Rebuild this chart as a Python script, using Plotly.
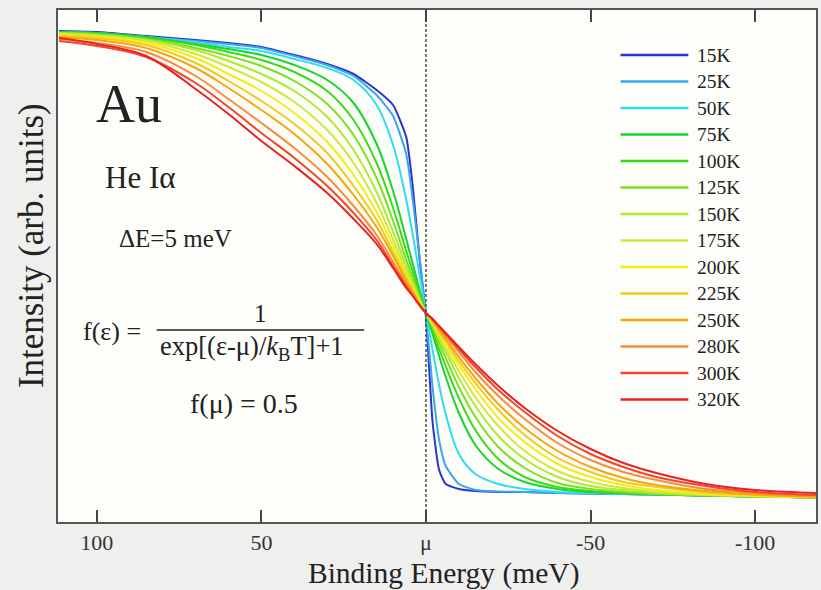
import plotly.graph_objects as go

# ---------------- data (intensity in arbitrary units) ----------------
energy = [111.5, 100, 85, 70, 60, 50, 40, 30, 22, 15, 10, 6, 4, 2, 0,
          -2, -4, -6, -10, -15, -22, -30, -40, -50, -60, -70, -85, -100, -118.5]

temps = ["15K", "25K", "50K", "75K", "100K", "125K", "150K", "175K",
         "200K", "225K", "250K", "280K", "300K", "320K"]

colors = ["#2b35c8", "#39a6ee", "#2fdcf0", "#19d42a", "#3ada1a", "#7ddf22", "#b0e834",
          "#d0e83c", "#f2ee10", "#f3c81a", "#f8a50a", "#f98c3c", "#f2462a", "#e82222"]

i_15K = [491, 490, 486, 482, 479, 475, 467, 458, 448, 432, 417, 385, 335, 265, 205,
         100, 52, 38, 33, 31, 30, 30, 29, 28.5, 28, 27.5, 26.5, 25.5, 24.5]
i_25K = [490, 489, 485, 481, 478, 474, 466, 457, 446, 427, 406, 368, 322, 266, 207,
         135, 82, 56, 38, 32, 30.5, 30, 29, 28.5, 28, 27.5, 26.5, 25.5, 24.5]
i_50K = [490, 489, 485, 480, 475, 471, 463, 454, 442, 417, 377, 322, 287, 248, 209,
         172, 137, 108, 68, 48, 38, 33, 30, 29, 28, 27.5, 26.5, 25.5, 24.5]
i_75K = [490, 489, 485, 478, 473, 467, 457, 442, 419, 378, 331, 283, 258, 233, 209,
         188, 166, 145, 109, 77, 53, 40, 33, 30, 28.5, 27.5, 26.5, 25.5, 24.5]
i_100K = [490, 488, 484, 477, 470, 462, 450, 431, 402, 359, 314, 271, 250, 229, 209,
          192, 173, 156, 124, 92, 63, 45, 35, 31, 29, 28, 26.5, 25.5, 24.5]
i_125K = [489, 488, 483, 474, 466, 456, 441, 418, 387, 344, 301, 262, 244, 226, 209,
          195, 179, 164, 135, 105, 75, 54, 39, 33, 30, 28, 26.7, 25.6, 24.5]
i_150K = [489, 487, 482, 472, 461, 448, 431, 405, 372, 330, 290, 256, 240, 223, 209,
          197, 183, 170, 144, 116, 86, 63, 45, 36, 32, 29, 27, 25.6, 24.5]
i_175K = [488, 486, 481, 468, 455, 440, 420, 392, 359, 319, 282, 251, 237, 222, 209,
          198, 186, 174, 151, 125, 96, 71, 51, 40, 34, 30.5, 27.5, 26, 24.5]
i_200K = [487, 485, 479, 464, 448, 431, 409, 380, 347, 310, 276, 247, 234, 220, 209,
          200, 188, 178, 157, 133, 104, 80, 58, 45, 37, 32, 28, 26, 25]
i_225K = [486, 484, 477, 459, 441, 421, 398, 369, 336, 302, 270, 244, 232, 219, 209,
          200, 190, 181, 161, 139, 112, 87, 64, 50, 40, 35, 29.5, 27, 25]
i_250K = [485, 482, 474, 454, 434, 412, 388, 358, 327, 295, 266, 241, 230, 218, 209,
          201, 192, 183, 165, 144, 118, 94, 71, 55, 44, 37, 31, 27.5, 25]
i_280K = [483, 479, 470, 446, 423, 399, 374, 345, 316, 287, 260, 238, 228, 217, 209,
          202, 194, 186, 170, 150, 126, 103, 79, 62, 50, 42, 33, 29, 26]
i_300K = [481, 476, 465, 439, 415, 389, 364, 336, 309, 282, 256, 236, 226, 217, 209,
          203, 195, 188, 173, 155, 132, 110, 86, 68, 55, 45, 36, 30, 27]
i_320K = [484, 478, 466, 433, 408, 381, 356, 329, 303, 278, 254, 234, 226, 217, 209,
          203, 196, 189, 175, 158, 136, 114, 91, 73, 59, 49, 38, 32, 29]

series = [i_15K, i_25K, i_50K, i_75K, i_100K, i_125K, i_150K, i_175K,
          i_200K, i_225K, i_250K, i_280K, i_300K, i_320K]

tick_vals = [100, 50, 0, -50, -100]
tick_text = ["100", "50", "μ", "-50", "-100"]

# ---------------- figure ----------------
SERIF = "Liberation Serif, Times New Roman, serif"
W, H = 821, 590
L, R, T, B = 58, 3, 10, 68
PW, PH = W - L - R, H - T - B


def px(xp):
    return (xp - L) / PW


def py(yp):
    return (H - B - yp) / PH


fig = go.Figure()
for k, (name, col, vals) in enumerate(zip(temps, colors, series)):
    fig.add_trace(go.Scatter(
        x=energy, y=vals, mode="lines", name=name, showlegend=False,
        line=dict(color=col, width=2, shape="spline", smoothing=0.5 if k < 2 else 1.0),
    ))

fig.add_vline(x=0, line=dict(color="#444444", width=1.4, dash="3px,2px"))

shapes = [
    # page background (light grey rim at left/top like the reference)
    dict(type="rect", xref="paper", yref="paper", layer="below",
         x0=px(20), x1=px(W + 5), y0=py(H + 5), y1=py(8),
         fillcolor="#fdfdf9", line=dict(width=0)),
    # fraction bar of the formula
    dict(type="line", xref="paper", yref="paper",
         x0=px(157), x1=px(365), y0=py(330), y1=py(330),
         line=dict(color="#222222", width=1.5)),
]

annotations = [
    dict(text="Au", x=px(129), y=py(104), font=dict(size=54)),
    dict(text="He Iα", x=px(140), y=py(177), font=dict(size=31)),
    dict(text="ΔE=5 meV", x=px(176), y=py(238), font=dict(size=25)),
    dict(text="f(ε) =", x=px(112), y=py(331), font=dict(size=26)),
    dict(text="1", x=px(261), y=py(313), font=dict(size=25)),
    dict(text="exp[(ε-μ)/<i>k</i><sub>B</sub>T]+1", x=px(253), y=py(348), font=dict(size=26.5)),
    dict(text="f(μ) = 0.5", x=px(244), y=py(403), font=dict(size=28)),
    # axis titles placed where the reference has them
    dict(text="Binding Energy (meV)", x=px(445), y=py(573), font=dict(size=29.5)),
    dict(text="Intensity (arb. units)", x=px(31), y=py(246), textangle=-90, font=dict(size=35)),
]
for a in annotations:
    a.update(xref="paper", yref="paper", showarrow=False, xanchor="center", yanchor="middle")
    a["font"].update(family=SERIF, color="#222222")

# legend drawn as line samples + labels
for i, (name, col) in enumerate(zip(temps, colors)):
    yy = py(55 + 26.5 * i)
    shapes.append(dict(type="line", xref="paper", yref="paper",
                       x0=px(622), x1=px(690), y0=yy, y1=yy,
                       line=dict(color=col, width=2.5)))
    annotations.append(dict(text=name, x=px(697), y=yy, xref="paper", yref="paper",
                            showarrow=False, xanchor="left", yanchor="middle",
                            font=dict(family=SERIF, size=19.5, color="#222222")))

fig.update_layout(
    width=W, height=H, autosize=False,
    margin=dict(l=L, r=R, t=T, b=B),
    paper_bgcolor="#efefed", plot_bgcolor="#fdfdf9",
    font=dict(family=SERIF, color="#222222"),
    shapes=shapes, annotations=annotations,
    xaxis=dict(range=[111.8, -118.5], tickmode="array", tickvals=tick_vals, ticktext=tick_text,
               ticks="inside", ticklen=12, tickwidth=1.5, tickcolor="#444444",
               showline=True, linecolor="#555555", linewidth=2, mirror="ticks",
               showgrid=False, zeroline=False,
               tickfont=dict(family=SERIF, size=22, color="#333333")),
    yaxis=dict(range=[0, 512], showticklabels=False, ticks="",
               showline=True, linecolor="#555555", linewidth=2, mirror=True,
               showgrid=False, zeroline=False),
)

fig.write_html("out.html", config={"displayModeBar": False},
               post_script="document.body.style.margin='0';")
